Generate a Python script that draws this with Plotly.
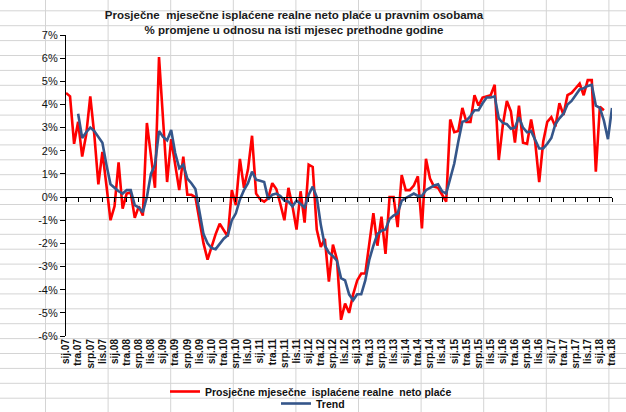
import plotly.graph_objects as go

# ---------------- data ----------------
month_names = ["sij", "velj", "ožu", "tra", "svi", "lip", "srp", "kol", "ruj", "lis", "stu", "pro"]
years = ["07", "08", "09", "10", "11", "12", "13", "14", "15", "16", "17", "18"]
n_months = 136  # sij.07 .. tra.18
categories = [f"{m}.{y}" for y in years for m in month_names][:n_months]

# Prosječne mjesečne isplaćene realne neto plaće (% y/y), from sij.07
real_wages = [4.5, 4.35, 2.3, 3.25, 1.75, 2.7, 4.35, 2.7, 0.55, 1.95,
              0.5, -1.0, -0.4, 1.5, -0.5, 0.15, 0.2, -0.9, -0.4, -0.8,
              3.2, 1.8, 0.4, 6.05, 3.2, 0.65, 2.5, 1.3, 0.3, 1.75,
              0.1, 0.1, 0.0, -1.0, -2.0, -2.7, -2.1, -1.6, -1.15, -1.4,
              -1.7, 0.3, -0.35, 1.65, 0.4, 1.2, 2.65, 0.15, -0.1, -0.2,
              -0.05, 0.6, 0.35, -0.3, -1.0, 0.4, -0.4, -1.4, 0.25, -1.1,
              1.4, 1.3, -1.4, -2.15, -1.8, -3.65, -2.05, -2.7, -5.3, -4.6,
              -5.0, -4.2, -3.6, -3.3, -3.3, -2.0, -0.7, -2.1, -0.85, -2.45,
              0.0, 0.0, -1.3, 0.95, 0.3, 0.3, 0.5, 0.9, -1.35, 1.65,
              0.8, 0.45, 0.4, 0.1, -0.2, 3.35, 2.8, 2.85, 3.85, 3.25,
              3.25, 4.4, 3.95, 4.3, 4.35, 4.4, 4.85, 1.6, 3.1, 4.15,
              3.7, 2.35, 3.95, 2.35, 2.3, 3.35, 2.4, 0.65, 2.4, 3.25,
              3.45, 3.05, 4.05, 3.55, 4.4, 4.5, 4.7, 4.9, 4.4, 5.05,
              5.05, 1.1, 3.9, 3.75]

# Trend, from tra.07
trend_start = 3
trend = [3.6, 2.55, 2.8, 3.0, 2.85, 2.6, 2.35, 1.4, 0.55, 0.4,
         0.25, 0.15, 0.3, 0.3, -0.35, -0.45, -0.65, 0.0, 1.0, 1.4,
         2.85, 2.6, 2.45, 2.9, 1.9, 1.25, 1.4, 0.8, 0.6, 0.35,
         -0.6, -1.6, -2.0, -2.2, -2.25, -2.0, -1.8, -1.65, -1.0, -0.7,
         -0.1, 0.3, 0.6, 1.1, 0.75, 0.7, 0.65, -0.1, 0.1, 0.15,
         0.05, -0.15, -0.2, -0.4, -0.15, -0.3, -0.45, 0.1, 0.45, 0.0,
         -1.2, -2.1, -2.4, -2.55, -2.75, -3.5, -3.6, -4.2, -4.45, -4.2,
         -4.2, -3.6, -2.7, -2.1, -1.6, -1.45, -1.4, -0.95, -0.8, -0.7,
         -0.15, -0.05, 0.05, 0.15, 0.05, 0.05, 0.3, 0.4, 0.5, 0.55,
         0.25, 0.15, 0.85, 1.45, 2.4, 3.25, 3.3, 3.5, 3.75, 3.75,
         4.05, 4.3, 4.3, 4.35, 3.4, 3.2, 3.15, 2.95, 3.0, 3.45,
         3.0, 2.8, 2.85, 2.5, 2.1, 2.1, 2.3, 2.55, 3.15, 3.4,
         3.6, 4.0, 4.15, 4.4, 4.65, 4.7, 4.8, 4.85, 3.95, 3.85,
         3.3, 2.5, 3.85]

tick_step = 3
y_ticks = list(range(-6, 8))

# ---------------- layout geometry ----------------
W, H = 626, 412
L, R, T, B = 66, 14, 35, 76
PW, PH = W - L - R, H - T - B
y_min, y_max = -6, 7

idx = list(range(n_months))
tick_idx = idx[::tick_step]

fig = go.Figure()
fig.add_trace(go.Scatter(
    x=idx[:len(real_wages)], y=real_wages, mode="lines",
    line=dict(color="#ff0000", width=2.6),
    name="<b>Prosječne mjesečne  isplaćene realne  neto plaće</b>",
    legend="legend", hoverinfo="skip"))
fig.add_trace(go.Scatter(
    x=idx[trend_start:trend_start + len(trend)], y=trend, mode="lines",
    line=dict(color="#35568a", width=2.6),
    name="<b>Trend</b>", legend="legend2", xaxis="x2", hoverinfo="skip"))

# Excel sheet cell grid behind the transparent chart
shapes = []
gx = 45.5
while gx < W:
    xp = (gx - L) / PW
    shapes.append(dict(type="line", xref="paper", yref="paper", x0=xp, x1=xp,
                       y0=(T + PH - H) / PH, y1=(T + PH) / PH,
                       line=dict(color="#d4d4d4", width=1), layer="below"))
    gx += 62.6
gy = 10.8
while gy < H:
    yp = (T + PH - gy) / PH
    shapes.append(dict(type="line", xref="paper", yref="paper", x0=-L / PW, x1=(W - L) / PW,
                       y0=yp, y1=yp, line=dict(color="#d4d4d4", width=1), layer="below"))
    gy += 14.9

fig.update_layout(
    width=W, height=H,
    margin=dict(l=L, r=R, t=T, b=B, autoexpand=False),
    paper_bgcolor="white", plot_bgcolor="rgba(0,0,0,0)",
    shapes=shapes,
    title=dict(
        text="<b>Prosječne  mjesečne isplaćene realne neto plaće u pravnim osobama</b><br>"
             "<b>% promjene u odnosu na isti mjesec prethodne godine</b>",
        x=294 / W, xref="container", xanchor="center",
        y=1 - 19 / H, yref="container", yanchor="top",
        font=dict(family="Arial, Liberation Sans", size=11.5, color="#1a1a1a")),
    xaxis=dict(
        range=[0, n_months - 1], tickmode="array", tickvals=tick_idx,
        ticktext=[categories[i] for i in tick_idx], tickangle=-90,
        showgrid=False, zeroline=False, showline=False, ticks="",
        tickfont=dict(family="Arial, Liberation Sans", size=10, color="#111", weight="bold")),
    xaxis2=dict(
        overlaying="x", matches="x", anchor="free", position=(0 - y_min) / (y_max - y_min),
        tickmode="array", tickvals=tick_idx, showticklabels=False,
        ticks="outside", ticklen=4, tickcolor="black", tickwidth=1,
        showline=True, linecolor="black", linewidth=1.2, showgrid=False, zeroline=False),
    yaxis=dict(
        range=[y_min, y_max], tickmode="array", tickvals=y_ticks,
        ticktext=[f"{v}%" for v in y_ticks],
        showgrid=False, zeroline=False, showline=True, linecolor="black", linewidth=1.2,
        ticks="outside", ticklen=5, tickcolor="black",
        tickfont=dict(family="Arial, Liberation Sans", size=11, color="#111")),
    legend=dict(x=(165 - L) / PW, xanchor="left", y=(T + PH - 377) / PH, yanchor="top",
                bgcolor="rgba(0,0,0,0)",
                font=dict(family="Arial, Liberation Sans", size=10.5, color="#111")),
    legend2=dict(x=(276 - L) / PW, xanchor="left", y=(T + PH - 389) / PH, yanchor="top",
                 bgcolor="rgba(0,0,0,0)",
                 font=dict(family="Arial, Liberation Sans", size=10.5, color="#111")),
    showlegend=True,
)

fig.write_html(
    "out.html",
    config={"displayModeBar": False},
    post_script="document.body.style.margin='0';document.body.style.padding='0';",
)
